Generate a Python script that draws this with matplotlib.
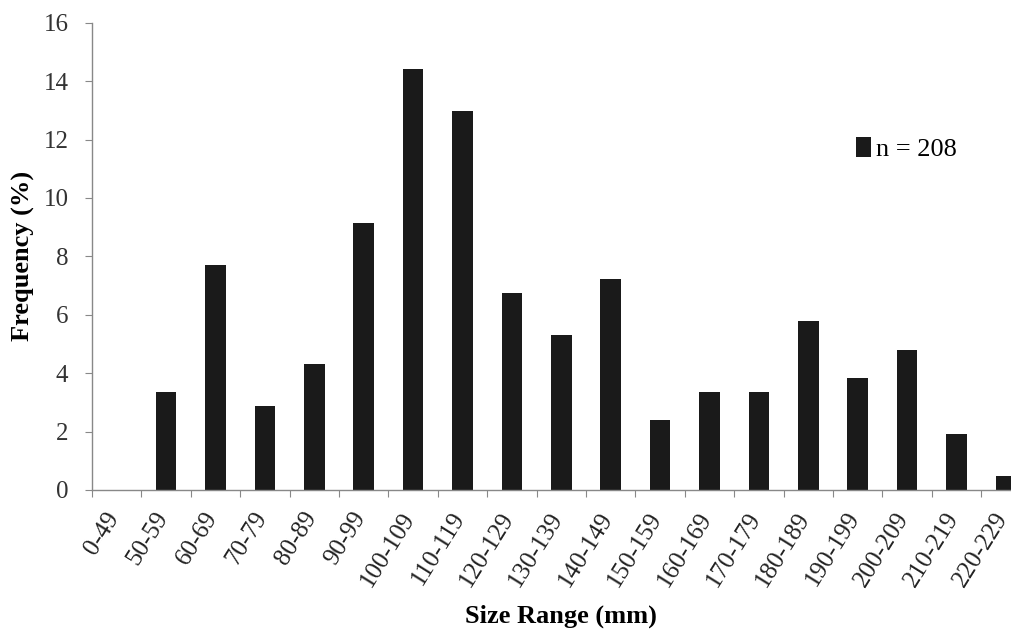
import matplotlib
matplotlib.use("Agg")
import matplotlib.pyplot as plt
import numpy as np

categories = ["0-49", "50-59", "60-69", "70-79", "80-89", "90-99", "100-109",
              "110-119", "120-129", "130-139", "140-149", "150-159", "160-169",
              "170-179", "180-189", "190-199", "200-209", "210-219", "220-229"]
frequency = [0.0, 3.37, 7.69, 2.88, 4.33, 9.13, 14.42, 12.98, 6.73, 5.29, 7.21,
             2.40, 3.37, 3.37, 5.77, 3.85, 4.81, 1.92, 0.48]
y_ticks = [0, 2, 4, 6, 8, 10, 12, 14, 16]
legend_label = "n = 208"

plt.rcParams['font.family'] = ['Liberation Serif', 'DejaVu Serif']

fig = plt.figure(figsize=(10.12, 6.37), dpi=100)
ax = fig.add_axes([92/1012, 147/637, 938.6/1012, 467.3/637])

x = np.arange(len(categories))
bars = ax.bar(x, frequency, width=0.42, color='#1a1a1a', label=legend_label)

ax.set_xlim(-0.5, len(categories) - 0.5)
ax.set_ylim(0, 16)
ax.set_yticks(y_ticks)
ax.set_yticklabels([str(t) for t in y_ticks], fontsize=18, color='#333333')

ax.set_xticks(np.arange(len(categories) + 1) - 0.5)
ax.set_xticklabels([])
ax.set_xticks(x - 0.25, minor=True)
ax.set_xticklabels(categories, minor=True, rotation=58, ha='right',
                   rotation_mode='anchor', fontsize=18, color='#222222')
ax.tick_params(axis='x', which='minor', length=0, pad=13)
ax.tick_params(axis='x', which='major', length=5, color='#888888', direction='out')
ax.tick_params(axis='y', length=5, color='#888888', direction='out', pad=12)

for s in ['top', 'right']:
    ax.spines[s].set_visible(False)
for s in ['left', 'bottom']:
    ax.spines[s].set_color('#888888')
    ax.spines[s].set_linewidth(1.0)

ax.set_ylabel("Frequency (%)", fontsize=19, fontweight='bold', labelpad=6)
ax.set_xlabel("Size Range (mm)", fontsize=19, fontweight='bold', labelpad=10)

ax.legend(loc='upper left', bbox_to_anchor=(856/1012, 1 - 137/637),
          bbox_transform=fig.transFigure, frameon=False, fontsize=19,
          handlelength=0.55, handleheight=0.8, handletextpad=0.2,
          borderpad=0, borderaxespad=0)

fig.savefig("out.png", dpi=100)
